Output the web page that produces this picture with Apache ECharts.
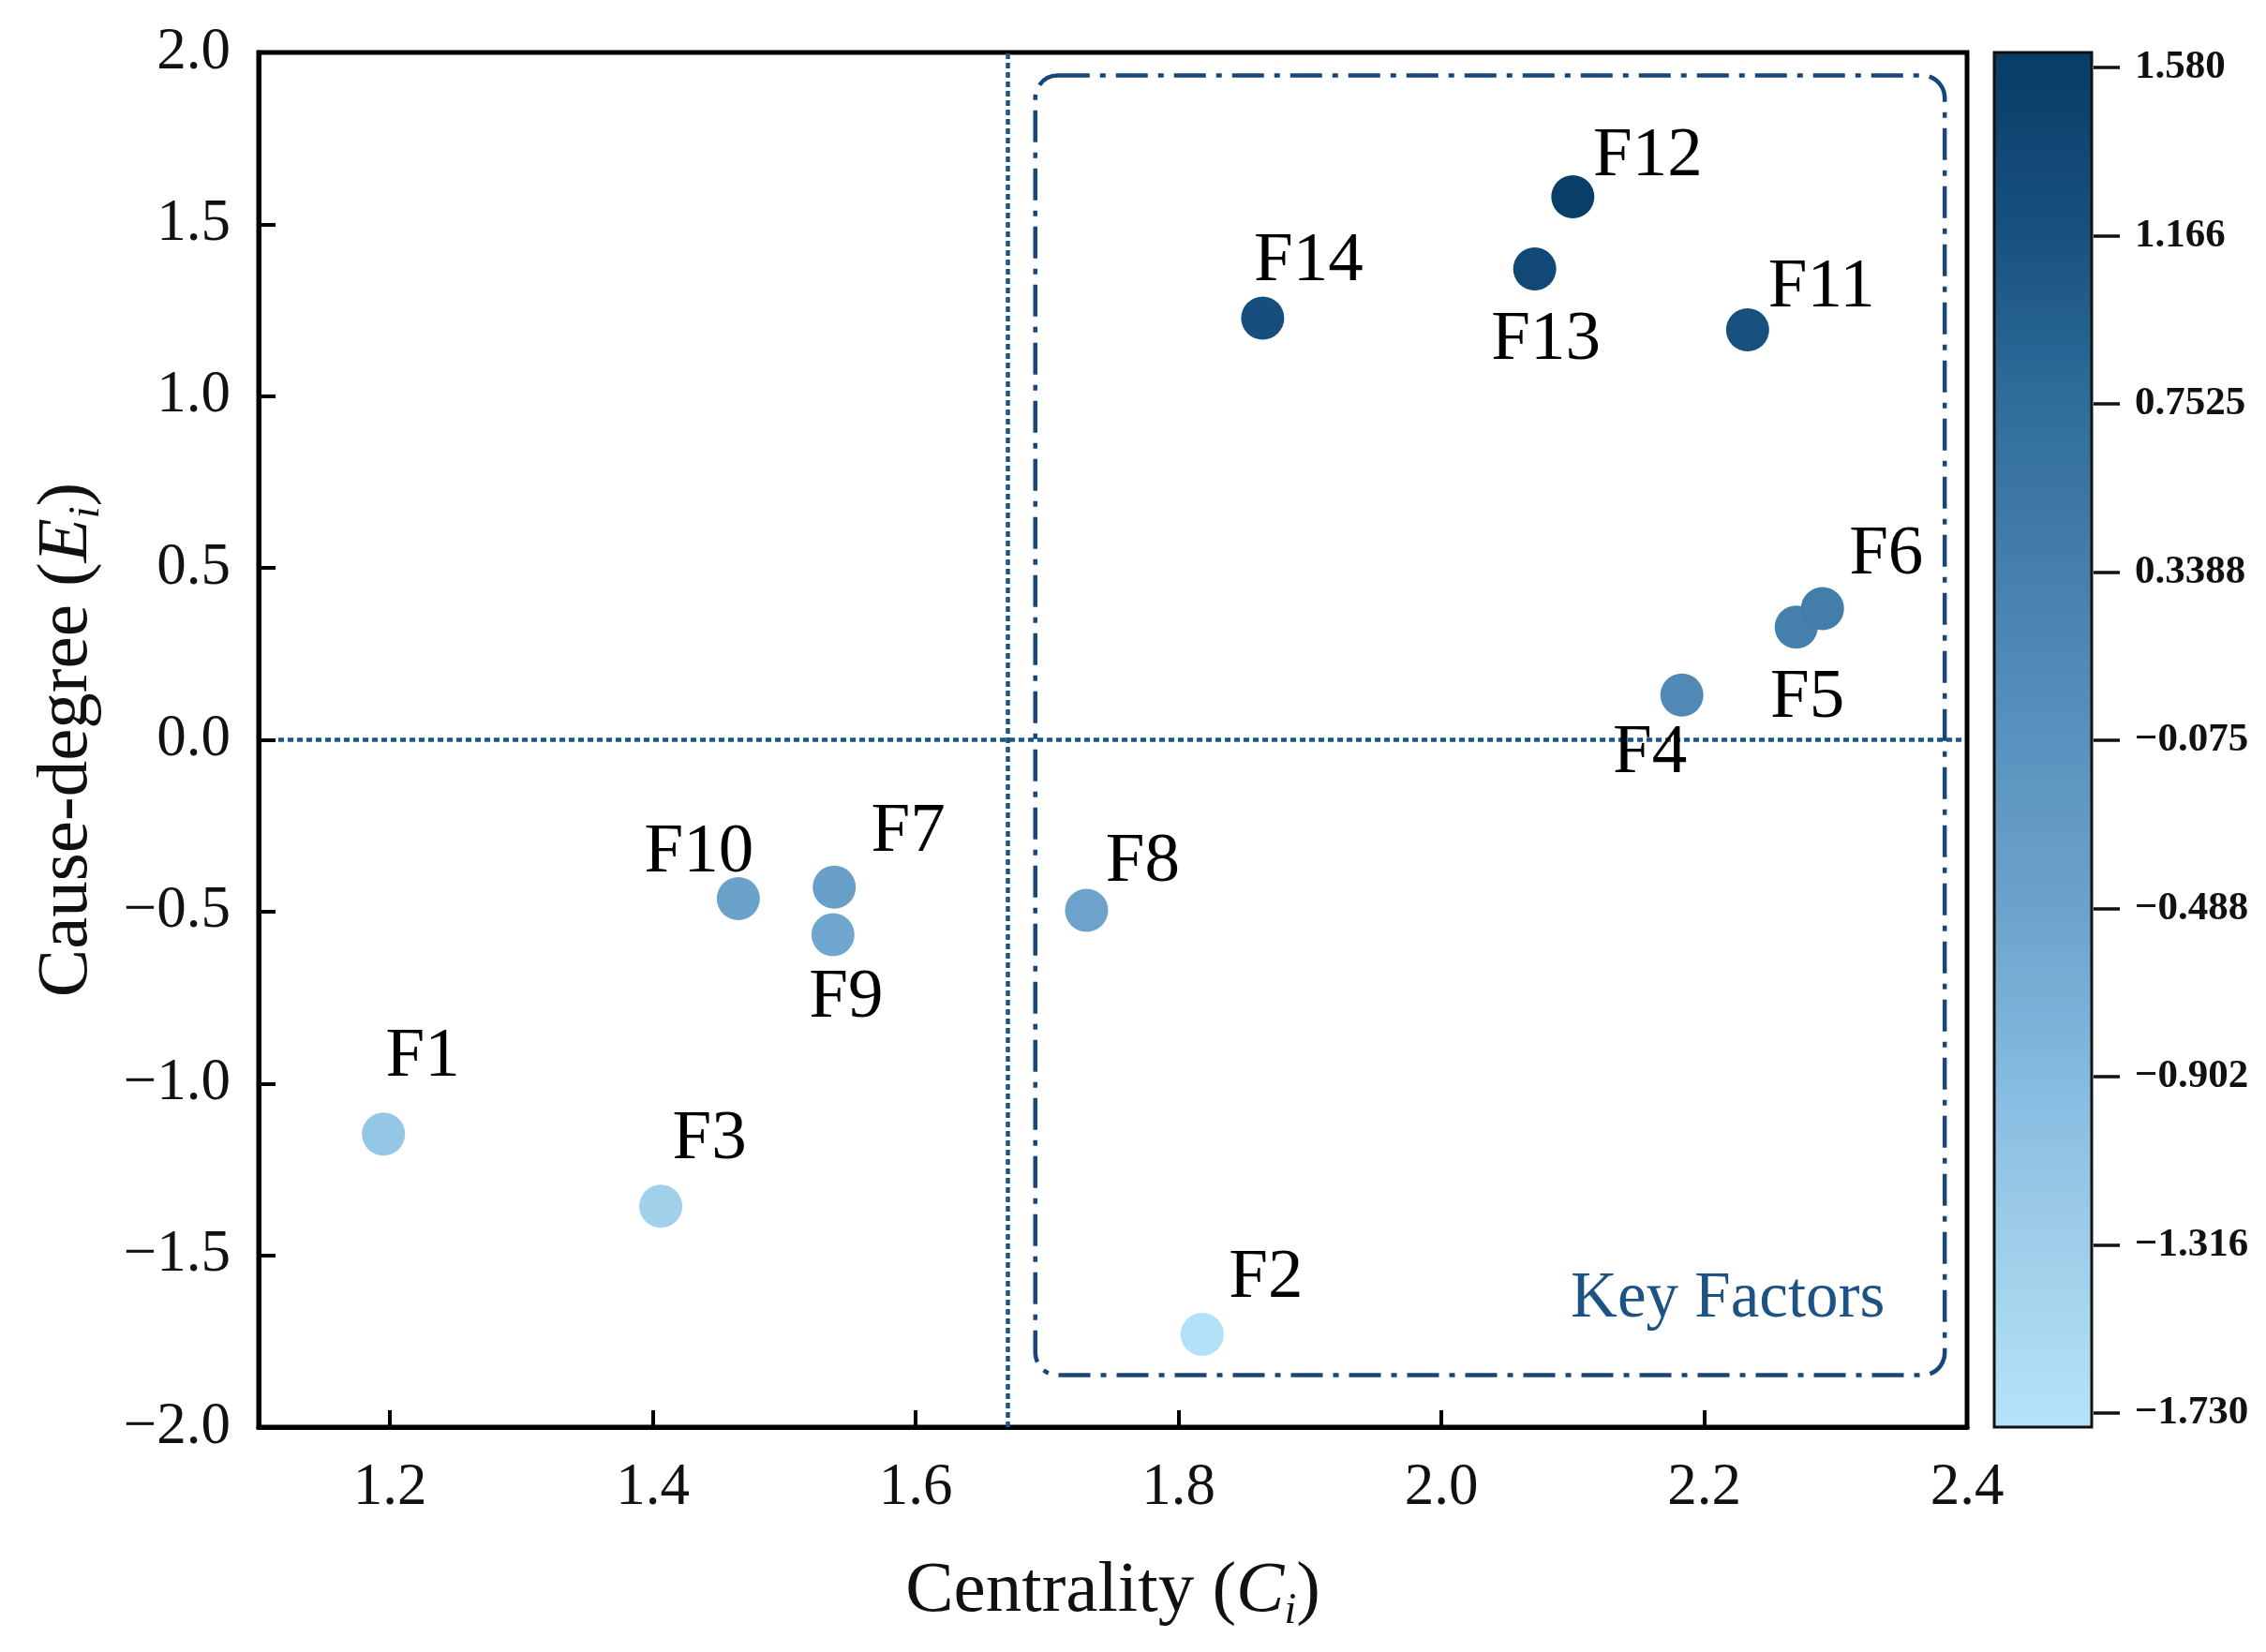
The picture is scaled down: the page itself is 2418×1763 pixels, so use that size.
<!DOCTYPE html>
<html>
<head>
<meta charset="utf-8">
<title>Cause-degree vs Centrality</title>
<style>html,body{margin:0;padding:0;background:#fff;}</style>
</head>
<body>
<div id="container" style="width:2418px;height:1763px;"></div>
<script src="https://cdn.jsdelivr.net/npm/echarts@6/dist/echarts.min.js"></script>
<script>
'use strict'

// factor names and their (centrality, cause-degree) values
var factors = ['F1', 'F2', 'F3', 'F4', 'F5', 'F6', 'F7', 'F8', 'F9', 'F10', 'F11', 'F12', 'F13', 'F14'];
var centrality = [1.195, 1.818, 1.406, 2.183, 2.270, 2.290, 1.538, 1.730, 1.537, 1.465, 2.233, 2.100, 2.071, 1.864];
var causeDegree = [-1.147, -1.730, -1.357, 0.130, 0.328, 0.382, -0.429, -0.496, -0.567, -0.462, 1.193, 1.580, 1.370, 1.227];

// colorbar tick labels, bottom to top, and the colour scale extent
var colorbarTicks = ['\u22121.730', '\u22121.316', '\u22120.902', '\u22120.488', '\u22120.075', '0.3388', '0.7525', '1.166', '1.580'];
var colorbarExtent = [-1.767, 1.617];
var colorbarColors = ['#b4e3f9', '#a0cfea', '#86bbe0', '#6ba3cb', '#5a92bf', '#457fab', '#2f6c9a', '#17507f', '#083c66'];

// reference lines and key-factor region (data units)
var centralityMean = 1.669;
var keyBoxX = [1.691, 2.383];
var keyBoxY = [-1.849, 1.933];
var keyLabelPos = [2.218, -1.630];

// label placement next to each point (pixels, from point centre)
var labelOffsets = {
	F1: [42, -82], F2: [68, -60], F3: [52, -71], F4: [-34, 62], F5: [12, 76],
	F6: [68, -57], F7: [79, -59], F8: [60, -51], F9: [14, 68], F10: [-42, -49],
	F11: [79, -45], F12: [80, -43], F13: [12, 76], F14: [49, -60]
};

var serif = '"Liberation Serif", "Times New Roman", serif';
var lineBlue = '#1a5588';

function minus(v, d) {
	return v < 0 ? '\u2212' + Math.abs(v).toFixed(d) : v.toFixed(d);
}

var points = factors.map(function (name, i) {
	return {
		name: name,
		value: [centrality[i], causeDegree[i]],
		label: { offset: labelOffsets[name] }
	};
});

var nameStyle = {
	fontSize: 77, fontFamily: serif, color: '#111',
	rich: {
		it: { fontSize: 77, fontFamily: serif, fontStyle: 'italic', color: '#111' },
		sub: { fontSize: 46, fontFamily: serif, fontStyle: 'italic', color: '#111', padding: [42, 0, 0, 0] }
	}
};

var myCharts = echarts.init(document.getElementById('container'));
var option = {
	backgroundColor: '#ffffff',
	animation: false,
	grid: [
		// main plot
		{ left: 276, top: 56, right: 319, bottom: 240, show: true, borderColor: '#000', borderWidth: 5 },
		// colorbar frame
		{ left: 2128, top: 56, width: 104, height: 1467, show: true, borderColor: '#111', borderWidth: 3, z: 10 },
		// colorbar ticks (slightly inset from the bar ends)
		{ left: 2128, top: 72, width: 106, height: 1436 }
	],
	xAxis: [{
		type: 'value',
		min: 1.1,
		max: 2.4,
		splitNumber: 6,
		minInterval: 0.2,
		maxInterval: 0.2,
		name: 'Centrality ({it|C}{sub|i})',
		nameLocation: 'middle',
		nameGap: 132,
		nameTextStyle: nameStyle,
		axisLine: { onZero: false, lineStyle: { color: '#000', width: 5 } },
		axisTick: { inside: true, length: 18, lineStyle: { color: '#000', width: 4 } },
		axisLabel: {
			showMinLabel: false,
			margin: 34,
			fontSize: 63, fontFamily: serif, color: '#111',
			formatter: function (v) { return v.toFixed(1); }
		},
		splitLine: { show: false }
	}, {
		type: 'value', gridIndex: 1, show: false, min: 0, max: 1
	}, {
		type: 'value', gridIndex: 2, show: false, min: 0, max: 1
	}],
	yAxis: [{
		type: 'value',
		min: -2,
		max: 2,
		interval: 0.5,
		name: 'Cause-degree ({it|E}{sub|i})',
		nameLocation: 'middle',
		nameGap: 160,
		nameTextStyle: nameStyle,
		axisLine: { onZero: false, lineStyle: { color: '#000', width: 5 } },
		axisTick: { inside: true, length: 18, lineStyle: { color: '#000', width: 4 } },
		axisLabel: {
			margin: 30,
			fontSize: 63, fontFamily: serif, color: '#111',
			formatter: function (v) { return minus(v, 1); }
		},
		splitLine: { show: false }
	}, {
		type: 'value', gridIndex: 1, show: false, min: 0, max: 1
	}, {
		type: 'category',
		gridIndex: 2,
		position: 'right',
		data: colorbarTicks,
		boundaryGap: false,
		axisLine: { show: true, onZero: false, lineStyle: { color: 'rgba(0,0,0,0)', width: 1 } },
		axisTick: { show: true, inside: false, length: 28, interval: 0, lineStyle: { color: '#111', width: 3.5 } },
		axisLabel: { interval: 0, margin: 44, fontSize: 43, fontWeight: 'bold', fontFamily: serif, color: '#111' },
		splitLine: { show: false }
	}],
	visualMap: {
		type: 'continuous',
		seriesIndex: 0,
		dimension: 1,
		min: colorbarExtent[0],
		max: colorbarExtent[1],
		calculable: false,
		hoverLink: false,
		text: null,
		left: 2128,
		top: 56,
		itemWidth: 104,
		itemHeight: 1467,
		padding: 0,
		z: 2,
		inRange: { color: colorbarColors }
	},
	series: [{
		type: 'scatter',
		data: points,
		symbolSize: 46,
		itemStyle: { opacity: 1 },
		z: 5,
		label: {
			show: true,
			position: 'inside',
			formatter: '{b}',
			fontSize: 75,
			fontFamily: serif,
			color: '#000',
			align: 'center',
			verticalAlign: 'middle'
		},
		markLine: {
			silent: true,
			symbol: 'none',
			label: { show: false },
			lineStyle: { color: lineBlue, width: 4.5, type: [6, 4], opacity: 1 },
			data: [
				{ xAxis: centralityMean },
				[{ coord: [1.115, 0] }, { coord: [2.396, 0] }]
			]
		}
	}, {
		type: 'custom',
		silent: true,
		z: 3,
		data: [[keyBoxX[0], keyBoxY[0]]],
		renderItem: function (params, api) {
			var p1 = api.coord([keyBoxX[0], keyBoxY[1]]);
			var p2 = api.coord([keyBoxX[1], keyBoxY[0]]);
			var t = api.coord(keyLabelPos);
			return {
				type: 'group',
				children: [{
					type: 'rect',
					shape: { x: p1[0], y: p1[1], width: p2[0] - p1[0], height: p2[1] - p1[1], r: 24 },
					style: { fill: 'none', stroke: '#17477a', lineWidth: 4.5, lineDash: [34, 11, 6, 11] }
				}, {
					type: 'text',
					x: t[0],
					y: t[1],
					style: {
						text: 'Key Factors', fill: '#1d5284',
						fontSize: 69, fontFamily: serif,
						align: 'center', verticalAlign: 'middle'
					}
				}]
			};
		}
	}]
};
myCharts.setOption(option);
</script>
</body>
</html>
